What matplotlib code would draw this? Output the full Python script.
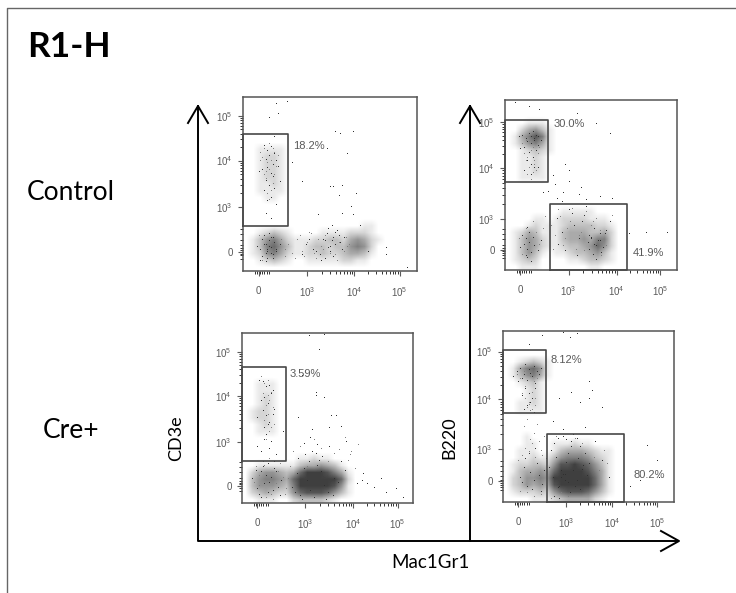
import math
import matplotlib
matplotlib.use("Agg")
import matplotlib.pyplot as plt
import numpy as np

plt.rcParams["font.family"] = ["Liberation Sans", "DejaVu Sans"]
plt.rcParams["mathtext.default"] = "regular"

W = 736
H = 593
GRAY = "#5a5a5a"

#frame of each panel in image pixels: left, top, right, bottom
frames = [(243, 97, 417, 271), (505, 100, 677, 270), (242, 333, 413, 503), (503, 331, 674, 502)]

#tick channels, order is 0, 10^3, 10^4, 10^5
x_ticks = [[9, 37, 64, 90], [9, 37, 65, 90], [9, 37, 65, 91], [9, 37, 64, 90]]
y_ticks = [[11, 37, 63.5, 89], [12, 30, 60, 87], [10, 36, 63, 89], [12, 31, 60, 88]]
tick_labels = ["0", "$10^{3}$", "$10^{4}$", "$10^{5}$"]

#gates: x0, y0, x1, y1 in channels
gates = [
    [(0, 26, 26, 79)],
    [(0, 52, 25, 88), (26, 0, 71, 39)],
    [(0, 25, 26, 80)],
    [(0, 52, 25, 89), (26, 0, 71, 40)],
]

#percent labels: x, y, text
labels = [
    [(29, 72, "18.2%")],
    [(28, 86, "30.0%"), (74, 10, "41.9%")],
    [(28, 76, "3.59%")],
    [(28, 83, "8.12%"), (76.5, 15.6, "80.2%")],
]

#darkness, 25x25 cells, top row first, short rows end in blanks
density1 = ["", "", "", "", "", "", "",
    "0011110", "0012210", "0012210", "0012210", "0012210", "0011210", "001111", "000110", "", "", "",
    "0000000000000000011",
    "0012321000011112221",
    "01356421112233245421",
    "01367531123323356520",
    "01256421122322344310",
    "0012321001111122110", ""]
density2 = ["", "", "", "000111",
    "0024531", "0146861", "0135641", "0012321", "001121", "001121", "001121", "001111", "", "", "",
    "",
    "00000000111110",
    "0000110122221110",
    "0001211123333221",
    "0124311134443342",
    "0135421134454662",
    "0135421123345752",
    "0135310112334531",
    "0123200001123321",
    "00111000000011"]
density3 = ["", "", "", "", "", "", "",
    "00111", "00111", "00121", "00121", "01221", "01221", "00121", "00111", "", "", "",
    "0000000011211",
    "0011111134454310",
    "0245543479998641",
    "0356654799999972",
    "0355543699999851",
    "0234322578887531",
    "0011100233332100"]
density4 = ["", "", "", "",
    "0012321", "0146751", "0135641", "001231", "000121", "000121", "001121", "001111", "", "",
    "",
    "00010000",
    "0001100111211",
    "0011100134443211",
    "0011211356665321",
    "0122332588987531",
    "0134454799998641",
    "0235565999999741",
    "0235454899999741",
    "0122232578887531",
    "0000111234444210"]
densities = [density1, density2, density3, density4]

#single events, channels
p1_x = [19, 25, 20, 15, 53, 56, 63, 18, 48, 60, 28, 34, 50, 52, 57, 55, 65, 62, 43, 57, 63, 67, 72, 82, 82, 94,
        12, 14, 16, 18, 13, 15, 17, 19, 11, 14, 16, 20, 13, 17, 15, 12, 18, 16, 21, 9, 14, 19, 13, 16,
        8, 10, 11, 13, 14, 15, 16, 17, 12, 14, 16, 18, 11, 13, 15, 17, 19, 21, 10, 12, 14, 16, 13, 15, 17, 19,
        36, 40, 44, 47, 50, 52, 48, 50, 51, 53, 54, 46, 49, 52, 55, 57, 34, 38, 42, 45, 56, 58, 49, 53, 47, 51]
p1_y = [96, 97, 90, 88, 80, 79, 80, 77, 70, 67, 62, 51, 48, 48, 49, 43, 44, 37, 32, 33, 32, 26, 11, 13, 9, 2,
        72, 69, 71, 67, 64, 66, 61, 63, 58, 59, 56, 60, 52, 54, 49, 46, 47, 42, 51, 57, 40, 38, 33, 30,
        14, 12, 18, 15, 11, 17, 13, 9, 20, 7, 19, 16, 8, 10, 14, 19, 11, 15, 6, 15, 12, 10, 5, 21, 7, 12,
        15, 12, 9, 17, 14, 19, 21, 11, 17, 15, 23, 18, 13, 8, 20, 12, 9, 18, 11, 6, 16, 19, 24, 22, 7, 26]
p2_x = [6, 14, 20, 42, 53, 61, 35, 37, 37, 29, 28, 34, 44, 72, 82, 94, 30, 43, 55, 62, 25, 22, 33, 47,
        8, 10, 12, 14, 15, 16, 17, 18, 19, 13, 15, 17, 19, 21, 9, 11, 14, 16, 18, 15, 13, 17, 11, 15, 19,
        9, 11, 12, 13, 14, 15, 16, 12, 14, 10, 13, 17, 19, 21, 15, 13,
        30, 33, 37, 40, 43, 46, 49, 52, 55, 58, 61, 31, 35, 39, 42, 47, 50, 53, 56, 59, 48, 50, 52, 54, 57, 49, 51, 55, 53, 45]
p2_y = [98, 96, 94, 92, 86, 80, 62, 58, 52, 50, 55, 45, 48, 21, 22, 22, 42, 44, 43, 42, 46, 45, 40, 41,
        78, 79, 77, 80, 78, 81, 77, 79, 78, 75, 74, 76, 73, 76, 71, 72, 69, 66, 70, 62, 64, 60, 58, 56, 60,
        13, 15, 18, 12, 16, 10, 19, 8, 22, 20, 25, 14, 11, 17, 5, 7,
        30, 22, 35, 26, 18, 32, 12, 24, 17, 21, 28, 15, 11, 33, 8, 37, 19, 14, 10, 23, 16, 18, 15, 17, 13, 20, 9, 21, 6, 28]
p3_x = [39, 51, 48, 45, 43, 35, 43, 48, 52, 55, 58, 51, 61, 71, 70, 73, 77, 81, 84, 90, 94, 67, 33, 41,
        10, 12, 14, 16, 18, 11, 13, 15, 17, 19, 9, 12, 14, 16, 18, 13, 15, 14, 17, 16, 11, 20, 9, 13, 24,
        6, 9, 11, 13, 15, 17, 19, 21, 23, 10, 12, 14, 16, 18, 20, 8, 11, 15, 19, 22,
        29, 32, 34, 36, 38, 40, 42, 44, 46, 48, 50, 54, 58, 60, 33, 37, 41, 45, 49, 53, 56, 31, 35, 39, 43, 47, 51, 36, 40, 44]
p3_y = [98, 100, 99, 90, 65, 75, 63, 62, 51, 51, 45, 44, 36, 17, 13, 11, 9, 14, 6, 8, 3, 11, 50, 43,
        72, 71, 68, 69, 66, 60, 62, 58, 64, 55, 50, 54, 51, 47, 52, 44, 46, 40, 36, 32, 30, 28, 33, 37, 42,
        14, 8, 18, 11, 6, 15, 20, 9, 13, 5, 21, 16, 12, 7, 18, 19, 3, 23, 24, 4,
        9, 17, 4, 20, 13, 7, 3, 22, 18, 10, 6, 14, 24, 19, 26, 28, 30, 25, 2, 4, 12, 6, 2, 24, 29, 27, 33, 35, 38, 34]
p4_x = [15, 23, 35, 39, 43, 50, 52, 40, 33, 45, 50, 58, 84, 90, 91, 80, 74, 35, 48, 29,
        6, 8, 10, 12, 13, 15, 16, 18, 20, 22, 9, 11, 14, 17, 19, 21, 13, 15, 17, 11, 14, 16, 19, 12, 18,
        10, 12, 14, 16, 18, 20, 22, 24, 11, 13, 17, 15, 19, 21, 23,
        27, 29, 31, 33, 35, 37, 39, 41, 43, 45, 47, 49, 28, 30, 32, 34, 36, 38, 40, 42, 44, 46, 34, 36, 38, 32, 40,
        30, 33, 35, 37, 41, 43, 45, 48, 50, 54, 58, 62]
p4_y = [92, 97, 99, 96, 98, 70, 65, 64, 60, 58, 60, 55, 33, 24, 14, 12, 9, 42, 43, 47,
        73, 76, 78, 74, 80, 77, 75, 79, 76, 78, 70, 72, 71, 73, 69, 74, 66, 63, 60, 62, 56, 58, 66, 54, 52,
        14, 20, 9, 17, 12, 22, 6, 18, 11, 25, 7, 28, 31, 15, 10,
        20, 14, 26, 9, 16, 23, 5, 18, 12, 7, 21, 15, 30, 34, 37, 18, 12, 28, 32, 9, 25, 19, 14, 16, 11, 8, 35,
        3, 2, 38, 36, 39, 37, 32, 28, 22, 35, 24, 14]
dots_x = [p1_x, p2_x, p3_x, p4_x]
dots_y = [p1_y, p2_y, p3_y, p4_y]

#fainter events in the clouds
q1_x = [10, 12, 15, 17, 11, 14, 18, 13, 16, 19, 12, 15, 17, 14, 16, 13, 15, 18, 10, 20, 24, 26, 28, 31, 33, 35, 37, 39, 41, 43, 45, 47, 53, 55, 57, 59, 61, 30, 34, 38, 42, 46, 50, 54, 58, 60, 9, 11, 22, 24]
q1_y = [68, 70, 73, 70, 65, 62, 68, 57, 63, 60, 55, 58, 50, 44, 46, 53, 41, 55, 63, 66, 12, 15, 10, 18, 20, 8, 16, 21, 10, 18, 14, 20, 9, 16, 12, 19, 15, 7, 11, 22, 7, 12, 10, 6, 11, 14, 20, 6, 18, 8]
q2_x = [10, 12, 14, 16, 18, 20, 11, 13, 15, 17, 19, 14, 16, 13, 17, 12, 15, 18, 27, 29, 32, 34, 36, 38, 41, 44, 47, 50, 53, 56, 59, 62, 35, 39, 43, 46, 51, 55, 28, 31, 8, 10, 12, 16, 18, 20, 22, 23]
q2_y = [74, 76, 75, 72, 74, 72, 68, 66, 70, 64, 68, 60, 57, 56, 62, 64, 53, 58, 26, 20, 31, 14, 24, 28, 12, 22, 34, 26, 30, 8, 14, 32, 18, 36, 20, 11, 28, 23, 12, 35, 18, 9, 24, 28, 22, 15, 24, 31]
q3_x = [11, 13, 15, 17, 12, 14, 16, 18, 13, 15, 17, 14, 16, 12, 19, 15, 7, 8, 10, 12, 14, 16, 18, 20, 22, 24, 26, 28, 10, 13, 17, 21, 25, 27, 62, 64, 66, 68, 57, 60, 63, 30, 34, 38, 42, 46, 50, 54]
q3_y = [74, 70, 72, 65, 64, 57, 60, 56, 48, 52, 44, 37, 42, 54, 46, 63, 12, 21, 16, 24, 3, 26, 2, 11, 23, 15, 8, 21, 10, 22, 5, 18, 5, 14, 25, 30, 20, 34, 31, 38, 28, 30, 33, 21, 37, 32, 24, 29]
q4_x = [8, 10, 12, 14, 16, 18, 20, 11, 13, 15, 17, 19, 14, 16, 13, 15, 17, 19, 12, 14, 16, 18, 20, 22, 24, 9, 11, 13, 15, 17, 19, 21, 23, 25, 10, 14, 18, 22, 53, 56, 59, 61, 28, 31, 34, 38, 42, 46]
q4_y = [74, 72, 76, 71, 73, 70, 72, 63, 67, 58, 64, 60, 55, 53, 60, 57, 54, 56, 44, 48, 36, 40, 45, 30, 38, 24, 27, 31, 29, 34, 26, 35, 27, 25, 6, 5, 3, 4, 26, 18, 30, 22, 2, 38, 5, 3, 37, 34]
faint_x = [q1_x, q2_x, q3_x, q4_x]
faint_y = [q1_y, q2_y, q3_y, q4_y]

#rug of ticks near zero, and subdivisions for a decade
x_rug = [7, 8, 9, 10, 11, 12, 14, 15]
y_rug = [7, 9, 10, 11, 12, 13, 15, 18, 21, 24]
decade_minor = [2, 3, 4, 5, 6, 7, 8, 9]

fig = plt.figure(figsize=(W / 100, H / 100), dpi=100, facecolor="white")

#page layer in pixels for frame, arrows and slide text
page = fig.add_axes([0, 0, 1, 1])
page.set_xlim(0, W)
page.set_ylim(H, 0)
page.axis("off")
page.plot([7, 7, W], [H, 8, 8], color="#666666", lw=1)
page.plot([198, 198, 678], [106, 540.5, 540.5], color="black", lw=1.4)
page.plot([470, 470], [540.5, 106], color="black", lw=1.4)
page.plot([188, 198, 208], [123, 106, 123], color="black", lw=1.4)
page.plot([460, 470, 480], [123, 106, 123], color="black", lw=1.4)
page.plot([661, 679, 661], [531, 541, 551], color="black", lw=1.4)
page.text(27, 47, "R1-H", family="Lato", weight="bold", fontsize=25.5, va="center")
page.text(27, 193, "Control", family="Lato", fontsize=19, va="center")
page.text(43, 430, "Cre+", family="Lato", fontsize=19, va="center")
page.text(176, 438, "CD3e", family="Lato", fontsize=13, rotation=90, va="center", ha="center")
page.text(449, 438, "B220", family="Lato", fontsize=13, rotation=90, va="center", ha="center")
page.text(430, 563, "Mac1Gr1", family="Lato", fontsize=13.5, va="center", ha="center")

for i in range(4):
    l, t, r, b = frames[i]
    ax = fig.add_axes([l / W, 1 - b / H, (r - l) / W, (b - t) / H])
    ax.set_xlim(0, 100)
    ax.set_ylim(0, 100)
    ax.patch.set_alpha(0)

    grid = np.array([[int(c) for c in row.ljust(25, "0")] for row in densities[i]])
    ax.imshow(grid, extent=(0, 100, 0, 100), cmap="gray_r", vmin=0, vmax=12,
              interpolation="bilinear", aspect="auto", zorder=1)
    ax.plot(faint_x[i], faint_y[i], ",", color="#808080", zorder=2)
    ax.plot(dots_x[i], dots_y[i], ",", color="#303030", zorder=2)

    for g in gates[i]:
        ax.plot([g[0], g[0], g[2], g[2], g[0]], [g[1], g[3], g[3], g[1], g[1]],
                color="#484848", lw=1.2, zorder=3, clip_on=False)
    for lab in labels[i]:
        ax.text(lab[0], lab[1], lab[2], fontsize=8, color=GRAY, va="center", zorder=4)

    ax.set_xticks(x_ticks[i])
    ax.set_xticklabels(tick_labels)
    ax.set_yticks(y_ticks[i])
    ax.set_yticklabels(tick_labels)

    #minor ticks, log spaced inside the decades
    xm = list(x_rug)
    ym = list(y_rug)
    for d in range(1, 3):
        for m in decade_minor:
            xm.append(x_ticks[i][d] + (x_ticks[i][d + 1] - x_ticks[i][d]) * math.log10(m))
            ym.append(y_ticks[i][d] + (y_ticks[i][d + 1] - y_ticks[i][d]) * math.log10(m))
    ax.set_xticks(xm, minor=True)
    ax.set_yticks(ym, minor=True)

    ax.tick_params(axis="both", which="major", length=3.5, width=0.8, color=GRAY,
                   labelcolor=GRAY, labelsize=7)
    ax.tick_params(axis="both", which="minor", length=2, width=0.7, color="#333333")
    ax.tick_params(axis="x", which="major", pad=7)
    ax.tick_params(axis="y", which="major", pad=4)
    for s in ax.spines.values():
        s.set_color("#555555")
        s.set_linewidth(1.1)

fig.savefig("out.png", dpi=100)
